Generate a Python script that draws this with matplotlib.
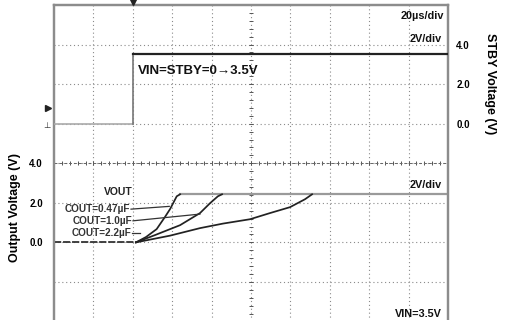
import numpy as np
import matplotlib
matplotlib.use("Agg")
import matplotlib.pyplot as plt
from matplotlib.lines import Line2D

plt.rcParams['font.family'] = ['Liberation Sans', 'DejaVu Sans']

# Time axis: 20 us/div, 10 divisions
T_SPAN = 200.0
# STBY / VIN step (upper trace, right axis)
stby_t = [0.0, 40.0, 40.0, 200.0]
stby_v = [0.0, 0.0, 3.5, 3.5]

# Output voltage rise for each output capacitor (lower trace, left axis)
vout_final = 2.43
c047_t = [0.0, 41.6, 46.7, 52.1, 56.3, 58.9, 62.3, 64.0]
c047_v = [0.0, 0.0, 0.27, 0.67, 1.28, 1.68, 2.33, 2.43]
c10_t = [0.0, 41.6, 51.3, 64.0, 74.1, 79.2, 83.2, 85.3]
c10_v = [0.0, 0.0, 0.37, 0.87, 1.48, 1.98, 2.33, 2.43]
c22_t = [0.0, 41.6, 58.9, 74.1, 85.8, 99.5, 109.6, 119.8, 127.4, 131.0]
c22_v = [0.0, 0.0, 0.34, 0.72, 0.95, 1.17, 1.48, 1.78, 2.18, 2.43]

left_ticks = [0.0, 2.0, 4.0]
right_ticks = [0.0, 2.0, 4.0]
cap_labels = ["COUT=0.47µF", "COUT=1.0µF", "COUT=2.2µF"]

W, H = 510, 320
fig = plt.figure(figsize=(W / 100, H / 100), dpi=100)
ax = fig.add_axes([54 / W, 1 - 321.5 / H, 394 / W, 316.5 / H])

# 2 V/div, 8 vertical divisions; VOUT ground sits 2 div above the bottom
ax.set_xlim(0, T_SPAN)
ax.set_ylim(-4, 12)
ax2 = ax.twinx()
ax2.set_ylim(-10, 6)

grid_col = '#8a8a8a'
# Graticule
for i in range(1, 10):
    ax.axvline(i * 20, color=grid_col, lw=0.8, ls=(0, (1, 2.5)), zorder=1)
for j in range(1, 8):
    ax.axhline(-4 + j * 2, color=grid_col, lw=0.8, ls=(0, (1, 2.5)), zorder=1)

# Centre cross with minor tick marks
cx, cy = 100.0, 4.0
minor_x = np.arange(0, T_SPAN + 0.1, 4.0)
minor_y = np.arange(-4, 12.01, 0.4)
ax.plot(minor_x, np.full_like(minor_x, cy), ls='none', marker='|', ms=3.5,
        mew=0.7, color='#555555', zorder=2)
ax.plot([0, T_SPAN], [cy, cy], color='#666666', lw=0.7, ls=(0, (3, 2)), zorder=2)
ax.plot(np.full_like(minor_y, cx), minor_y, ls='none', marker='_', ms=3.5,
        mew=0.7, color='#555555', zorder=2)

# Upper trace: VIN = STBY step
ax2.plot(stby_t[:2], stby_v[:2], color='#aaaaaa', lw=1.2, zorder=3)
ax2.plot(stby_t[1:3], stby_v[1:3], color='#777777', lw=1.2, zorder=3)
ax2.plot(stby_t[2:], stby_v[2:], color='#222222', lw=1.6, zorder=3)

# Lower traces: output voltage
ax.plot([c047_t[-1], T_SPAN], [vout_final, vout_final], color='#9a9a9a', lw=1.6, zorder=3)
ax.plot([0, 41.6], [0, 0], color='#333333', lw=1.3, ls=(0, (4, 1)), zorder=4)
for t, v in [(c047_t, c047_v), (c10_t, c10_v), (c22_t, c22_v)]:
    ax.plot(t[1:], v[1:], color='#222222', lw=1.25, zorder=4)

# Capacitor labels with leader lines
lab_font = dict(family=['Liberation Sans Narrow', 'Liberation Sans'], fontsize=7.2,
                fontweight='bold', color='#333333', ha='right', va='center')
leaders = [((39.1, 1.68), (58.5, 1.82)),
           ((40.1, 1.09), (74.1, 1.43)),
           ((39.6, 0.47), (43.7, 0.47))]
for text, (p0, p1) in zip(cap_labels, leaders):
    ax.text(p0[0] - 0.5, p0[1], text, **lab_font)
    ax.plot([p0[0], p1[0]], [p0[1], p1[1]], color='#333333', lw=0.9, zorder=4)
ax.text(32.5, 2.55, "VOUT", fontsize=7.5, fontweight='bold', color='#222222',
        ha='center', va='center')

# Annotations
bold = dict(fontweight='bold', color='#111111')
ax2.text(42.5, 2.65, "VIN=STBY=0→3.5V", fontsize=9.5, ha='left', va='center', **bold)
ax.text(198, 11.45, "20µs/div", fontsize=7.8, ha='right', va='center', **bold)
ax.text(197, 10.3, "2V/div", fontsize=7.8, ha='right', va='center', **bold)
ax.text(197, 2.9, "2V/div", fontsize=7.8, ha='right', va='center', **bold)
ax.text(197, -3.6, "VIN=3.5V", fontsize=7.8, ha='right', va='center', **bold)

# Axis ticks
ax.set_xticks([])
ax.set_yticks(left_ticks)
ax.set_yticklabels([f"{v:.1f}" for v in left_ticks], fontsize=7, fontweight='bold')
ax.tick_params(axis='y', length=0, pad=8)
ax2.set_yticks(right_ticks)
ax2.set_yticklabels([f"{v:.1f}" for v in right_ticks], fontsize=7, fontweight='bold')
ax2.tick_params(axis='y', length=0, pad=6)

for a in (ax, ax2):
    for side in ('left', 'top', 'right'):
        a.spines[side].set_color('#8c8c8c')
        a.spines[side].set_linewidth(1.6)
    a.spines['bottom'].set_visible(False)

fig.text(15 / W, 1 - 208 / H, "Output Voltage (V)", rotation=90, fontsize=9,
         fontweight='bold', ha='center', va='center')
fig.text(490 / W, 1 - 84 / H, "STBY Voltage (V)", rotation=-90, fontsize=9,
         fontweight='bold', ha='center', va='center')

# Channel markers on the left edge and trigger position on top
fig.add_artist(Line2D([48 / W], [1 - 108 / H], marker='>', ms=4, color='#222222',
                      transform=fig.transFigure))
fig.text(47 / W, 1 - 126 / H, "⊥", fontsize=6, ha='center', va='center',
         family='DejaVu Sans', color='#333333')
fig.add_artist(Line2D([133 / W], [1 - 2 / H], marker='v', ms=4, color='#222222',
                      transform=fig.transFigure))

fig.savefig("out.png", dpi=100, facecolor='white')
